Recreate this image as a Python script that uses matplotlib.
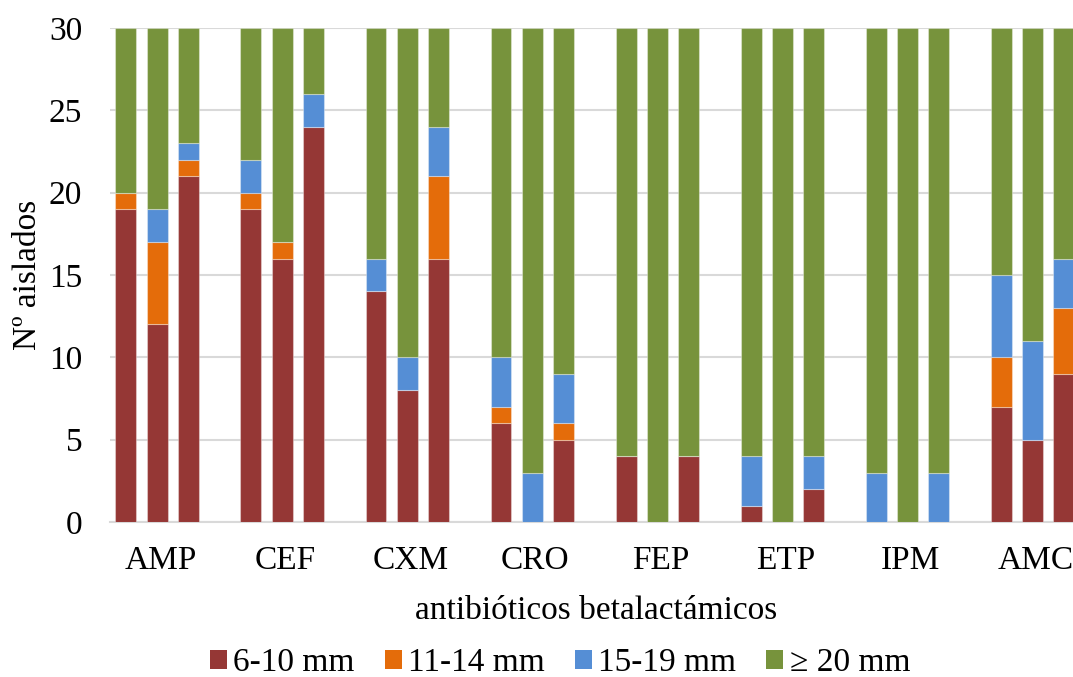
import matplotlib
matplotlib.use("Agg")
import matplotlib.pyplot as plt
import numpy as np
from matplotlib.patches import Patch

plt.rcParams['font.family'] = ['Liberation Serif', 'DejaVu Serif']

categories = ["AMP", "CEF", "CXM", "CRO", "FEP", "ETP", "IPM", "AMC"]
series_names = ["6-10 mm", "11-14 mm", "15-19 mm", "\u2265 20 mm"]
colors = ["#953735", "#E46C0A", "#558ED5", "#77933C"]

# each category has 3 bars; values per bar
s_6_10 = [19, 12, 21, 19, 16, 24, 14, 8, 16, 6, 0, 5, 4, 0, 4, 1, 0, 2, 0, 0, 0, 7, 5, 9]
s_11_14 = [1, 5, 1, 1, 1, 0, 0, 0, 5, 1, 0, 1, 0, 0, 0, 0, 0, 0, 0, 0, 0, 3, 0, 4]
s_15_19 = [0, 2, 1, 2, 0, 2, 2, 2, 3, 3, 3, 3, 0, 0, 0, 3, 0, 2, 3, 0, 3, 5, 6, 3]
s_20 = [10, 11, 7, 8, 13, 4, 14, 20, 6, 20, 27, 21, 26, 30, 26, 26, 30, 26, 27, 30, 27, 15, 19, 14]

series = [s_6_10, s_11_14, s_15_19, s_20]

fig = plt.figure(figsize=(10.73, 6.77), dpi=100)
ax = fig.add_axes([110/1073, 1-522/677, 1-110/1073, (522-28)/677])

positions = np.array([g*4 + b for g in range(len(categories)) for b in range(3)], dtype=float)
bottom = np.zeros(len(positions))
for vals, col, name in zip(series, colors, series_names):
    v = np.array(vals, dtype=float)
    ax.bar(positions, v, bottom=bottom, width=0.67, color=col, label=name,
           edgecolor=(1, 1, 1, 0.35), linewidth=0.8, zorder=3)
    bottom += v

ax.set_ylim(0, 30)
ax.set_xlim(-0.51, 30.3)
ax.set_yticks(range(0, 31, 5))
ax.set_xticks([g*4 + 1 + 0.1 for g in range(len(categories))])
ax.set_xticklabels(categories)
ax.tick_params(axis='both', length=0, labelsize=24, colors='black')
ax.tick_params(axis='x', pad=17)
ax.tick_params(axis='y', pad=20)
ax.grid(axis='y', color='#D9D9D9', linewidth=1.5, zorder=0)
for s in ['top', 'right', 'left']:
    ax.spines[s].set_visible(False)
ax.spines['bottom'].set_color('#D9D9D9')
ax.spines['bottom'].set_linewidth(1.5)

ax.set_xlabel("antibióticos betalactámicos", fontsize=24)
ax.xaxis.set_label_coords(0.505, -0.148)
ax.set_ylabel("Nº aislados", fontsize=24)
ax.yaxis.set_label_coords(-0.07, 0.5)

handles = [Patch(facecolor=c, edgecolor='none') for c in colors]
fig.legend(handles, series_names, loc='center', bbox_to_anchor=(0.522, 0.021),
           ncol=4, frameon=False, fontsize=24, handlelength=0.5, handleheight=0.5,
           handletextpad=0.2, columnspacing=0.9, borderpad=0.1)

fig.savefig("out.png", dpi=100)
